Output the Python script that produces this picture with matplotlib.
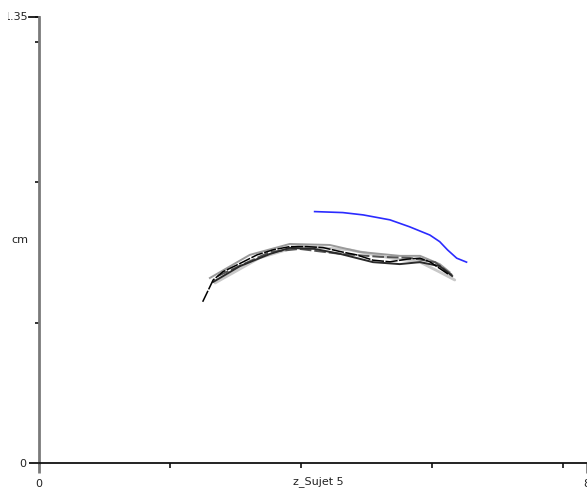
import matplotlib
matplotlib.use("Agg")
import matplotlib.pyplot as plt
from matplotlib.transforms import Bbox

# ---- data (cm) ----
blue_x = [4.21, 4.64, 4.95, 5.36, 5.66, 5.97, 6.12, 6.24, 6.38, 6.53]
blue_y = [0.761, 0.758, 0.751, 0.736, 0.715, 0.690, 0.670, 0.645, 0.620, 0.608]

trA_x = [2.50, 2.66, 2.81, 3.07, 3.33, 3.57, 3.83, 4.09, 4.34, 4.60, 4.85, 5.10, 5.36, 5.62, 5.82, 5.97, 6.12, 6.27]
trA_y = [0.488, 0.554, 0.579, 0.604, 0.630, 0.645, 0.655, 0.655, 0.652, 0.640, 0.630, 0.614, 0.609, 0.617, 0.620, 0.609, 0.589, 0.569]

trB_x = [2.66, 3.07, 3.53, 3.83, 4.21, 4.60, 5.10, 5.51, 5.82, 6.12, 6.31]
trB_y = [0.548, 0.596, 0.633, 0.651, 0.648, 0.633, 0.608, 0.602, 0.608, 0.596, 0.566]

trC_x = [2.61, 3.22, 3.83, 4.44, 4.90, 5.51, 5.82, 6.12, 6.27]
trC_y = [0.560, 0.630, 0.663, 0.660, 0.639, 0.627, 0.627, 0.602, 0.578]

trD_x = [2.69, 3.37, 3.98, 4.75, 5.36, 5.82, 6.12, 6.35]
trD_y = [0.545, 0.621, 0.657, 0.645, 0.621, 0.608, 0.578, 0.554]

trE_x = [2.73, 3.53, 3.98, 4.60, 5.21, 5.66, 6.05, 6.31]
trE_y = [0.566, 0.639, 0.648, 0.633, 0.624, 0.621, 0.608, 0.569]

x_max = 8.37
y_max = 1.35
x_minor = [2, 4, 6, 8]
y_minor = [0.425, 0.85, 1.275]

W, H = 587, 488
fig = plt.figure(figsize=(W / 100, H / 100), dpi=100)
ax = fig.add_axes([39 / W, 25 / H, 548 / W, 446 / H])

# traces
ax.plot(trD_x, trD_y, color="#c8c8c8", lw=2.0, solid_capstyle="round")
ax.plot(trC_x, trC_y, color="#9a9a9a", lw=1.4)
ax.plot(trE_x, trE_y, color="#555555", lw=1.4, ls=(0, (6, 1.5)))
ax.plot(trB_x, trB_y, color="#2a2a2a", lw=1.4)
ax.plot(trA_x, trA_y, color="#000000", lw=1.1, ls=(0, (8, 1)))
ax.plot(blue_x, blue_y, color="#2b2bff", lw=1.2)

ax.set_xlim(0, x_max)
ax.set_ylim(0, y_max)

for s in ("top", "right"):
    ax.spines[s].set_visible(False)
ax.spines["left"].set_color("#7a7a7a")
ax.spines["left"].set_linewidth(2.0)
ax.spines["bottom"].set_color("#111111")
ax.spines["bottom"].set_linewidth(1.3)

ax.set_xticks([0, x_max])
ax.set_xticklabels(["0", "8"])
ax.set_xticks(x_minor, minor=True)
ax.set_yticks([0])
ax.set_yticklabels(["0"])
ax.set_yticks(y_minor + [y_max], minor=True)

ax.tick_params(axis="x", which="major", length=7.2, width=2.0, color="#7a7a7a",
               pad=4, labelsize=8, labelcolor="#222222")
ax.tick_params(axis="x", which="minor", length=3.6, width=1.2, color="#111111")
ax.tick_params(axis="y", which="major", length=7.2, width=1.3, color="#111111",
               pad=2, labelsize=8, labelcolor="#222222")
ax.tick_params(axis="y", which="minor", length=2.9, width=1.2, color="#111111")

# long top tick with partially clipped label
ax.plot([-10 / 65.5, 0], [y_max, y_max], color="#111111", lw=1.3, clip_on=False,
        transform=ax.transData)
t = fig.text(28 / W, 1 - 17 / H, "1.35", ha="right", va="center", fontsize=8,
             color="#222222")
t.set_clip_box(Bbox.from_extents(8, 0, W, H))
t.set_clip_on(True)

fig.text(20 / W, 1 - 240 / H, "cm", ha="center", va="center", fontsize=8,
         color="#222222")
fig.text(318 / W, 1 - 482 / H, "z_Sujet 5", ha="center", va="center", fontsize=8,
         color="#222222")

fig.savefig("out.png", dpi=100)
